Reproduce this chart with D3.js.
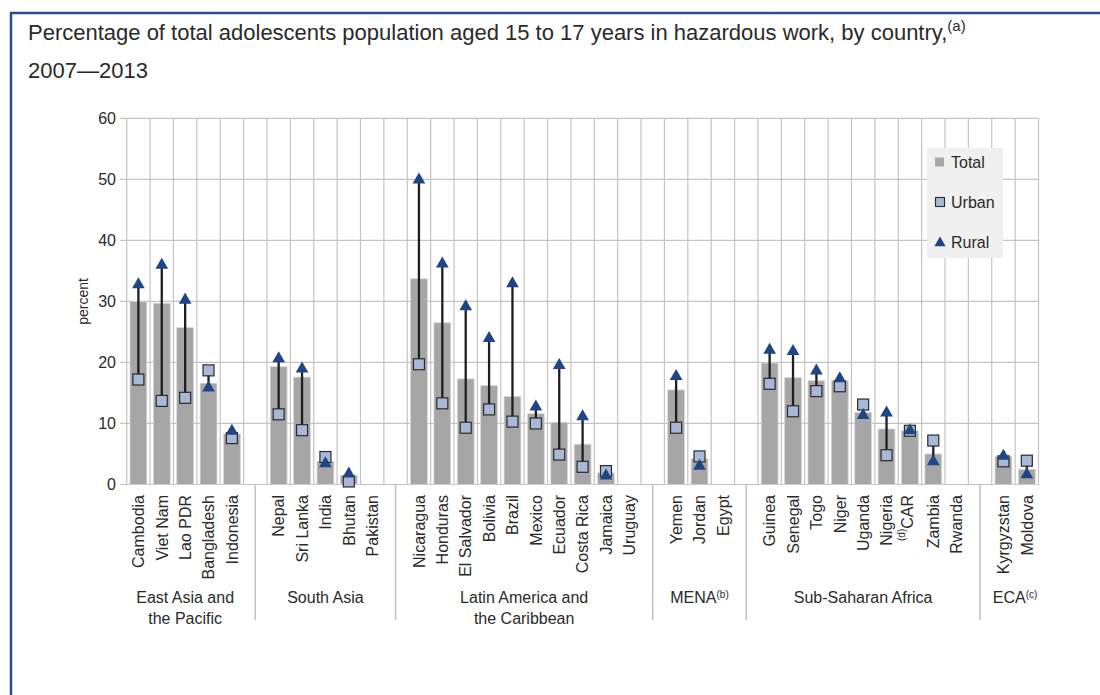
<!DOCTYPE html>
<html>
<head>
<meta charset="utf-8">
<script src="https://cdn.jsdelivr.net/npm/d3@7"></script>
<style>
  html, body { margin: 0; padding: 0; background: #fff; }
  svg { display: block; }
  text { font-family: "Liberation Sans", Arial, sans-serif; fill: #2a2a2a; }
</style>
</head>
<body>
<svg id="chart" width="1100" height="695"></svg>
<script>
// ---- data ----
const groups = ["East Asia and|the Pacific", "South Asia", "Latin America and|the Caribbean", "MENA", "Sub-Saharan Africa", "ECA"];
const groupNotes = ["", "", "", "(b)", "", "(c)"];
const groupSizes = [5, 5, 10, 3, 9, 2];
const countries = ["Cambodia", "Viet Nam", "Lao PDR", "Bangladesh", "Indonesia",
  "Nepal", "Sri Lanka", "India", "Bhutan", "Pakistan",
  "Nicaragua", "Honduras", "El Salvador", "Bolivia", "Brazil", "Mexico", "Ecuador", "Costa Rica", "Jamaica", "Uruguay",
  "Yemen", "Jordan", "Egypt",
  "Guinea", "Senegal", "Togo", "Niger", "Uganda", "Nigeria", "CAR", "Zambia", "Rwanda",
  "Kyrgyzstan", "Moldova"];
const countryNotes = {"CAR": "(d)"};
const total = [30.0, 29.7, 25.7, 16.6, 8.3,
  19.3, 17.6, 3.8, 1.5, null,
  33.7, 26.5, 17.3, 16.2, 14.4, 11.6, 10.2, 6.6, 1.9, null,
  15.5, 4.2, null,
  19.9, 17.5, 17.0, 17.0, 11.8, 9.1, 8.8, 5.0, null,
  4.6, 2.5];
const urban = [17.2, 13.7, 14.2, 18.7, 7.6,
  11.5, 8.9, 4.5, 0.5, null,
  19.7, 13.3, 9.3, 12.3, 10.3, 10.0, 4.9, 2.9, 2.2, null,
  9.3, 4.6, null,
  16.5, 12.0, 15.3, 16.1, 13.1, 4.8, 8.8, 7.2, null,
  3.8, 3.9];
const rural = [32.9, 36.1, 30.4, 16.0, 8.9,
  20.8, 19.1, 3.6, 1.9, null,
  50.1, 36.3, 29.3, 24.1, 33.1, 12.9, 19.7, 11.3, 1.6, null,
  17.9, 3.2, null,
  22.2, 22.0, 18.8, 17.5, 11.5, 11.9, 9.0, 3.9, null,
  4.8, 1.8];
const yTicks = [0, 10, 20, 30, 40, 50, 60];
const legendItems = ["Total", "Urban", "Rural"];

// ---- build slots (countries + spacer between groups) ----
const slots = [];
let ci = 0;
groupSizes.forEach((n, gi) => {
  for (let k = 0; k < n; k++, ci++) {
    slots.push({id: "c" + ci, name: countries[ci], t: total[ci], u: urban[ci], r: rural[ci]});
  }
  if (gi < groupSizes.length - 1) slots.push({id: "s" + gi, spacer: true});
});

const svg = d3.select("#chart");
const C = {frame: "#264d8c", grid: "#c4c4c4", bar: "#a6a6a6", urban: "#a8b8d6", rural: "#1f4585"};

// frame
svg.append("line").attr("x1", 10).attr("x2", 1100).attr("y1", 13).attr("y2", 13)
  .attr("stroke", C.frame).attr("stroke-width", 2.5);
svg.append("line").attr("x1", 11).attr("x2", 11).attr("y1", 12).attr("y2", 695)
  .attr("stroke", C.frame).attr("stroke-width", 2.5);

// title
const t1 = svg.append("text").attr("x", 28).attr("y", 40).style("font-size", "22px");
t1.append("tspan").text("Percentage of total adolescents population aged 15 to 17 years in hazardous work, by country,");
t1.append("tspan").attr("dy", -9).style("font-size", "15px").text("(a)");
svg.append("text").attr("x", 28).attr("y", 78).style("font-size", "22px").text("2007\u20142013");

// scales
const x = d3.scaleBand().domain(slots.map(s => s.id)).range([126.7, 1038.5]).padding(0);
const y = d3.scaleLinear().domain([0, 60]).range([484.5, 118.3]);
const bw = x.bandwidth();
const cx = id => x(id) + bw / 2;

// gridlines
const g = svg.append("g");
g.selectAll("line.h").data(yTicks).join("line")
  .attr("x1", 120).attr("x2", 1038.5)
  .attr("y1", d => y(d)).attr("y2", d => y(d))
  .attr("stroke", C.grid).attr("stroke-width", 1.2);
const vb = slots.map(s => x(s.id)).concat([x.range()[1]]);
g.selectAll("line.v").data(vb).join("line")
  .attr("x1", d => d).attr("x2", d => d)
  .attr("y1", y(60)).attr("y2", y(0))
  .attr("stroke", C.grid).attr("stroke-width", 1.2);

// y tick labels
svg.selectAll("text.yt").data(yTicks).join("text")
  .attr("x", 116).attr("y", d => y(d)).attr("dy", "0.36em")
  .attr("text-anchor", "end").style("font-size", "16px").text(d => d);
svg.append("text").attr("transform", `translate(88,${y(30)}) rotate(-90)`)
  .attr("text-anchor", "middle").style("font-size", "14px").text("percent");

// bars
const data = slots.filter(s => !s.spacer);
svg.selectAll("rect.bar").data(data.filter(d => d.t != null)).join("rect")
  .attr("x", d => cx(d.id) - bw * 0.36).attr("width", bw * 0.72)
  .attr("y", d => y(d.t)).attr("height", d => y(0) - y(d.t))
  .attr("fill", C.bar).attr("stroke", "#d8d8d8").attr("stroke-width", 0.8);

// connecting lines
svg.selectAll("line.conn").data(data.filter(d => d.u != null && d.r != null)).join("line")
  .attr("x1", d => cx(d.id)).attr("x2", d => cx(d.id))
  .attr("y1", d => y(d.u)).attr("y2", d => y(d.r))
  .attr("stroke", "#1e1e1e").attr("stroke-width", 2.3);

// urban squares
const sq = 11;
svg.selectAll("rect.u").data(data.filter(d => d.u != null)).join("rect")
  .attr("x", d => cx(d.id) - sq / 2).attr("y", d => y(d.u) - sq / 2)
  .attr("width", sq).attr("height", sq)
  .attr("fill", C.urban).attr("stroke", "#2b2b2b").attr("stroke-width", 1.2);

// rural triangles
const tri = d3.symbol().type(d3.symbolTriangle).size(70);
svg.selectAll("path.r").data(data.filter(d => d.r != null)).join("path")
  .attr("transform", d => `translate(${cx(d.id)},${y(d.r) + 1})`)
  .attr("d", tri).attr("fill", C.rural);

// country labels
const cl = svg.selectAll("text.cl").data(data).join("text")
  .attr("transform", d => `translate(${cx(d.id)},495) rotate(-90)`)
  .attr("text-anchor", "end").attr("dy", "0.36em").style("font-size", "16px");
cl.each(function(d) {
  const el = d3.select(this);
  if (countryNotes[d.name]) {
    el.append("tspan").style("font-size", "10px").attr("dy", "-0.5em").text(countryNotes[d.name]);
    el.append("tspan").attr("dy", "0.5em").text(d.name);
  } else el.text(d.name);
});

// group separators & labels
const sepX = [];
slots.forEach(s => { if (s.spacer) sepX.push(cx(s.id)); });
svg.selectAll("line.sep").data(sepX).join("line")
  .attr("x1", d => d).attr("x2", d => d).attr("y1", y(0)).attr("y2", 620)
  .attr("stroke", "#c0c0c0").attr("stroke-width", 1.5);
const edges = [x.range()[0] - bw / 2].concat(sepX).concat([x.range()[1] + bw / 2]);
groups.forEach((gname, gi) => {
  const mid = (edges[gi] + edges[gi + 1]) / 2;
  const lines = gname.split("|");
  lines.forEach((ln, li) => {
    const tx = svg.append("text").attr("x", mid).attr("y", 603 + li * 21)
      .attr("text-anchor", "middle").style("font-size", "16px");
    tx.append("tspan").text(ln);
    if (li === lines.length - 1 && groupNotes[gi]) {
      tx.append("tspan").attr("dy", -5).style("font-size", "10px").text(groupNotes[gi]);
    }
  });
});

// legend
const lg = svg.append("g");
lg.append("rect").attr("x", 927).attr("y", 148).attr("width", 76).attr("height", 110).attr("fill", "#f0f0f0");
const ly = [162, 202, 242];
lg.append("rect").attr("x", 935).attr("y", ly[0] - 4.5).attr("width", 9).attr("height", 9).attr("fill", C.bar);
lg.append("rect").attr("x", 935.5).attr("y", ly[1] - 4.5).attr("width", 9).attr("height", 9)
  .attr("fill", C.urban).attr("stroke", "#2b2b2b").attr("stroke-width", 1.1);
lg.append("path").attr("transform", `translate(940,${ly[2] + 1})`).attr("d", d3.symbol().type(d3.symbolTriangle).size(55)).attr("fill", C.rural);
lg.selectAll("text").data(legendItems).join("text")
  .attr("x", 951).attr("y", (d, i) => ly[i]).attr("dy", "0.36em").style("font-size", "16px").text(d => d);
</script>
</body>
</html>
